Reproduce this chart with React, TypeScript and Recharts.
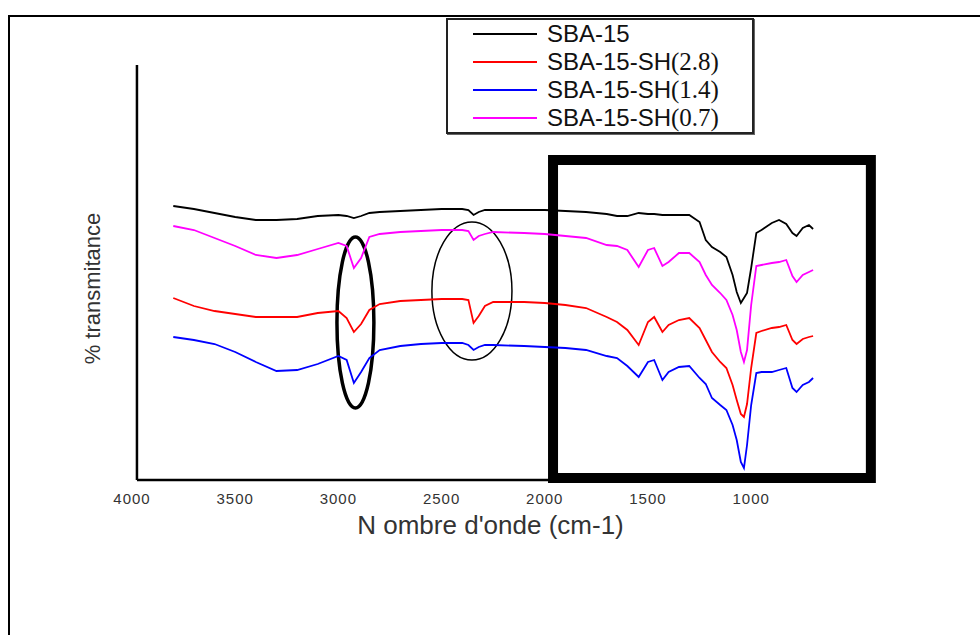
import {
  LineChart,
  Line,
  XAxis,
  YAxis,
  Legend,
  ReferenceArea,
  ReferenceLine,
} from "recharts";

// wavenumber grid (cm-1)
const wavenumbers = [
  3800, 3700, 3600, 3500, 3400, 3300, 3200, 3100, 3000, 2960,
  2925, 2890, 2850, 2800, 2700, 2600, 2500, 2400, 2370, 2345,
  2320, 2290, 2250, 2100, 2000, 1900, 1800, 1700, 1650, 1600,
  1545, 1500, 1470, 1430, 1400, 1350, 1300, 1250, 1220, 1190,
  1150, 1120, 1090, 1070, 1050, 1035, 1020, 1000, 975, 950,
  900, 865, 830, 800, 780, 750, 720, 700,
];

// transmittance (arbitrary units, curves stacked)
const sba15 = [
  274, 271, 267, 263, 260, 260, 261, 264, 265, 264,
  262, 264, 267, 268, 269, 270, 271, 271, 270, 265,
  268, 270, 270, 270, 270, 269, 268, 266, 264, 264,
  267, 266, 266, 265, 265, 265, 265, 258, 240, 233,
  228, 223, 205, 188, 177, 182, 187, 212, 247, 250,
  257, 260, 256, 247, 244, 252, 255, 251,
];

const sh28 = [
  182, 174, 169, 166, 163, 163, 163, 167, 169, 162,
  148, 156, 170, 176, 179, 180, 181, 181, 180, 157,
  164, 174, 178, 178, 177, 175, 172, 163, 158, 150,
  135, 158, 163, 148, 155, 160, 162, 152, 140, 128,
  118, 112, 95, 80, 66, 63, 76, 112, 147, 149,
  152, 153, 155, 140, 136, 141, 143, 144,
];

const sh14 = [
  143, 140, 136, 128, 118, 109, 110, 116, 124, 120,
  97, 108, 122, 130, 134, 136, 137, 137, 135, 130,
  133, 135, 135, 134, 133, 132, 130, 124, 122, 114,
  103, 118, 120, 100, 108, 113, 114, 102, 96, 82,
  75, 70, 55, 40, 18, 12, 35, 75, 107, 108,
  108, 110, 112, 92, 88, 95, 98, 102,
];

const sh07 = [
  254, 250, 242, 234, 225, 222, 225, 231, 237, 234,
  212, 222, 243, 246, 248, 249, 250, 250, 249, 240,
  244, 246, 248, 247, 246, 244, 242, 235, 234, 230,
  213, 230, 232, 214, 218, 227, 227, 218, 205, 195,
  187, 180, 165, 150, 128, 118, 130, 175, 214, 215,
  217, 218, 220, 204, 198, 205, 208, 210,
];

const xTicks = [4000, 3500, 3000, 2500, 2000, 1500, 1000];

const series = [
  { key: "sba15", name: "SBA-15", color: "#000000" },
  { key: "sh28", name: "SBA-15-SH(2.8)", color: "#ff0000" },
  { key: "sh14", name: "SBA-15-SH(1.4)", color: "#0000ff" },
  { key: "sh07", name: "SBA-15-SH(0.7)", color: "#ff00ff" },
];

const data = wavenumbers.map((wn, i) => ({
  wn,
  sba15: sba15[i],
  sh28: sh28[i],
  sh14: sh14[i],
  sh07: sh07[i],
}));

const SANS = '"Liberation Sans", Arial, sans-serif';
const SERIF = '"Liberation Serif", "Times New Roman", serif';

function LegendBox(props: any) {
  const order = series.map((s) => s.name);
  const items = [...(props.payload || [])].sort(
    (a: any, b: any) => order.indexOf(a.value) - order.indexOf(b.value)
  );
  return (
    <div
      style={{
        boxSizing: "border-box",
        width: 308,
        border: "2px solid #222",
        boxShadow: "1px 1px 0 #666",
        background: "#fff",
        paddingLeft: 25,
      }}
    >
      {items.map((it: any) => {
        const m = /^(.*?)(\(.*\))$/.exec(it.value);
        return (
          <div
            key={it.value}
            style={{ display: "flex", alignItems: "center", height: 28 }}
          >
            <svg width={64} height={4}>
              <line x1={0} y1={2} x2={64} y2={2} stroke={it.color} strokeWidth={2.2} />
            </svg>
            <span
              style={{
                marginLeft: 10,
                fontFamily: SANS,
                fontSize: 24,
                lineHeight: "24px",
                color: "#111",
                whiteSpace: "nowrap",
              }}
            >
              {m ? m[1] : it.value}
              {m && (
                <span style={{ fontFamily: SERIF, fontSize: 25, lineHeight: "24px" }}>
                  {m[2]}
                </span>
              )}
            </span>
          </div>
        );
      })}
    </div>
  );
}

const ellipseShape = (w: number) => (p: any) => (
  <ellipse
    cx={p.x + p.width / 2}
    cy={p.y + p.height / 2}
    rx={Math.abs(p.width) / 2}
    ry={Math.abs(p.height) / 2}
    fill="none"
    stroke="#000"
    strokeWidth={w}
  />
);

export default function App() {
  return (
    <div
      style={{
        position: "absolute",
        left: 0,
        top: 0,
        width: 980,
        height: 635,
        overflow: "hidden",
        background: "#fff",
        fontFamily: SANS,
      }}
    >
      <div
        style={{
          position: "absolute",
          left: 8,
          top: 15,
          width: 1100,
          height: 800,
          borderTop: "2.5px solid #000",
          borderLeft: "2.5px solid #000",
        }}
      />
      <LineChart
        width={980}
        height={635}
        data={data}
        margin={{ top: 65, right: 105, bottom: 125, left: 52 }}
        style={{ position: "absolute", left: 0, top: 0 }}
      >
        <XAxis
          dataKey="wn"
          type="number"
          domain={[400, 4000]}
          reversed
          ticks={xTicks}
          tickLine={false}
          axisLine={false}
          tickMargin={7}
          tick={{ fontSize: 15, fill: "#333", letterSpacing: 1 }}
          label={{
            value: "N ombre d'onde (cm-1)",
            position: "bottom",
            offset: 6,
            dx: -13,
            style: { fontSize: 26, fill: "#333" },
          }}
        />
        <YAxis
          type="number"
          domain={[0, 415]}
          tick={false}
          tickLine={false}
          axisLine={false}
          width={80}
          label={{
            value: "% transmitance",
            angle: -90,
            position: "center",
            dy: 16,
            style: { fontSize: 22, fill: "#333" },
          }}
        />
        <ReferenceLine
          segment={[{ x: 3976, y: 0 }, { x: 3976, y: 415 }]}
          stroke="#000"
          strokeWidth={2.5}
        />
        <ReferenceLine
          segment={[{ x: 3976, y: 0 }, { x: 400, y: 0 }]}
          stroke="#000"
          strokeWidth={2.5}
        />
        {series.map((s) => (
          <Line
            key={s.key}
            type="linear"
            dataKey={s.key}
            name={s.name}
            stroke={s.color}
            strokeWidth={1.8}
            dot={false}
            isAnimationActive={false}
          />
        ))}
        <ReferenceArea
          x1={1960}
          x2={420}
          y1={2}
          y2={320}
          fill="none"
          fillOpacity={0}
          stroke="#000"
          strokeWidth={10}
          ifOverflow="visible"
        />
        <ReferenceArea
          x1={3007}
          x2={2828}
          y1={72}
          y2={243}
          ifOverflow="visible"
          shape={ellipseShape(3.5)}
        />
        <ReferenceArea
          x1={2547}
          x2={2159}
          y1={120}
          y2={258}
          ifOverflow="visible"
          shape={ellipseShape(1.5)}
        />
        <Legend
          layout="vertical"
          align="center"
          verticalAlign="middle"
          wrapperStyle={{ left: 446, top: 18, width: "auto" }}
          content={LegendBox}
        />
      </LineChart>
    </div>
  );
}
